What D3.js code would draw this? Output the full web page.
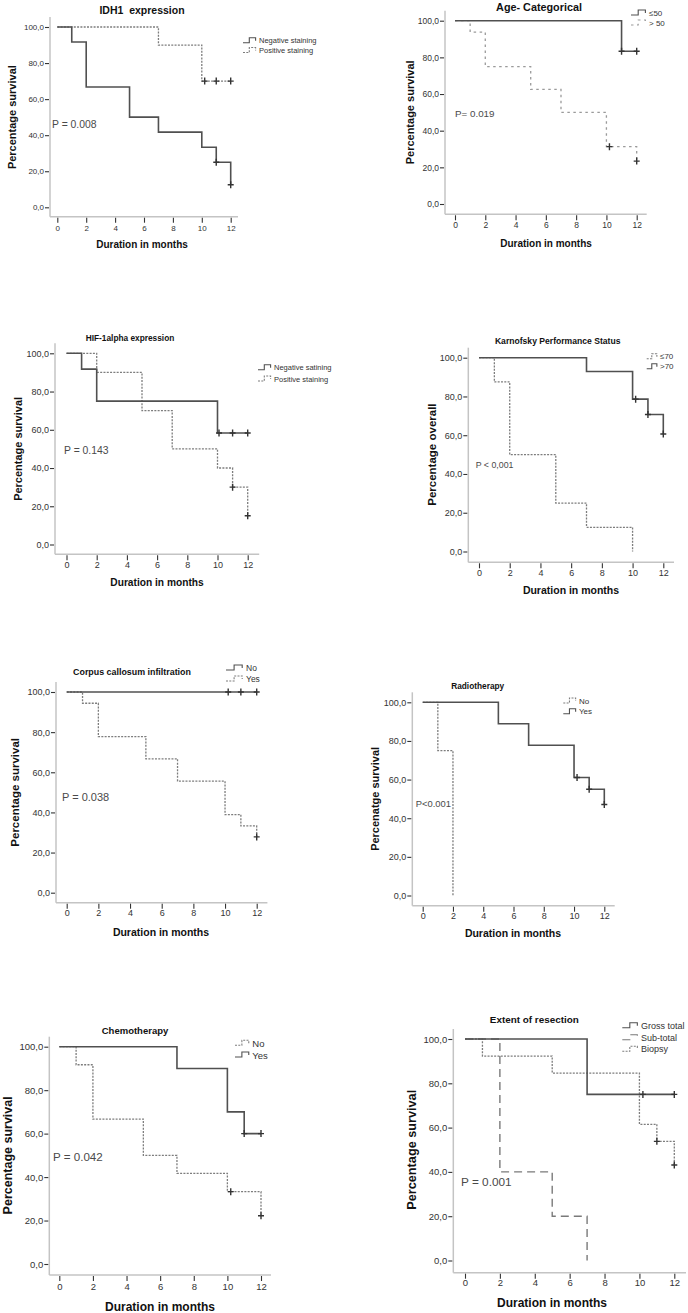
<!DOCTYPE html>
<html><head><meta charset="utf-8">
<script src="https://cdn.jsdelivr.net/npm/d3@7"></script>
<style>
body{margin:0;background:#fff}
svg{display:block}
text{font-family:"Liberation Sans",Arial,sans-serif;white-space:pre}
</style>
</head><body>
<svg id="c" width="688" height="1313"></svg>
<script>
// ---------- tick values ----------
const monthTicks = [0, 2, 4, 6, 8, 10, 12];
const pctTicks = [0, 20, 40, 60, 80, 100];

// ---------- IDH1 expression ----------
const idh1NegT = [0, 1, 2, 5, 7, 10, 11, 12];
const idh1NegS = [100, 91.7, 66.7, 50, 41.7, 33.3, 25, 12.5];
const idh1NegCensT = [11, 12];
const idh1NegCensS = [25, 12.5];
const idh1PosT = [0, 7, 10, 12];
const idh1PosS = [100, 90, 70, 70];
const idh1PosCensT = [10.2, 11, 12];
const idh1PosCensS = [70, 70, 70];

// ---------- Age ----------
const ageLe50T = [0, 11, 12];
const ageLe50S = [100, 83.3, 83.3];
const ageLe50CensT = [11, 12];
const ageLe50CensS = [83.3, 83.3];
const ageGt50T = [0, 1, 2, 5, 7, 10, 12];
const ageGt50S = [100, 93.8, 75, 62.5, 50, 31.3, 23.4];
const ageGt50CensT = [10.2, 12];
const ageGt50CensS = [31.3, 23.4];

// ---------- HIF-1alpha ----------
const hifNegT = [0, 1, 2, 10, 12];
const hifNegS = [100, 91.7, 75, 58.3, 58.3];
const hifNegCensT = [10.1, 11, 12];
const hifNegCensS = [58.3, 58.3, 58.3];
const hifPosT = [0, 2, 5, 7, 10, 11, 12];
const hifPosS = [100, 90, 70, 50, 40, 30, 15];
const hifPosCensT = [11, 12];
const hifPosCensS = [30, 15];

// ---------- Karnofsky ----------
const kpsLe70T = [0, 1, 2, 5, 7, 10];
const kpsLe70S = [100, 87.5, 50, 25, 12.5, 0];
const kpsGt70T = [0, 7, 10, 11, 12];
const kpsGt70S = [100, 92.9, 78.6, 70.7, 60.6];
const kpsGt70CensT = [10.2, 11, 12];
const kpsGt70CensS = [78.6, 70.7, 60.6];

// ---------- Corpus callosum ----------
const ccNoT = [0, 12];
const ccNoS = [100, 100];
const ccNoCensT = [10.2, 11, 12];
const ccNoCensS = [100, 100, 100];
const ccYesT = [0, 1, 2, 5, 7, 10, 11, 12];
const ccYesS = [100, 94.4, 77.8, 66.7, 55.6, 38.9, 33.3, 27.8];
const ccYesCensT = [12];
const ccYesCensS = [27.8];

// ---------- Radiotherapy ----------
const rtNoT = [0, 1, 2];
const rtNoS = [100, 75, 0];
const rtYesT = [0, 5, 7, 10, 11, 12];
const rtYesS = [100, 88.9, 77.8, 61.1, 55.0, 47.1];
const rtYesCensT = [10.2, 11, 12];
const rtYesCensS = [61.1, 55.0, 47.1];

// ---------- Chemotherapy ----------
const ctNoT = [0, 1, 2, 5, 7, 10, 12];
const ctNoS = [100, 91.7, 66.7, 50, 41.7, 33.3, 22.2];
const ctNoCensT = [10.2, 12];
const ctNoCensS = [33.3, 22.2];
const ctYesT = [0, 7, 10, 11, 12];
const ctYesS = [100, 90, 70, 60, 60];
const ctYesCensT = [11, 12];
const ctYesCensS = [60, 60];

// ---------- Extent of resection ----------
const eorGrossT = [0, 7, 12];
const eorGrossS = [100, 75, 75];
const eorGrossCensT = [10.2, 12];
const eorGrossCensS = [75, 75];
const eorSubT = [0, 2, 5, 7];
const eorSubS = [100, 40, 20, 0];
const eorBiopsyT = [0, 1, 5, 10, 11, 12];
const eorBiopsyS = [100, 92.3, 84.6, 61.5, 53.8, 43.1];
const eorBiopsyCensT = [11, 12];
const eorBiopsyCensS = [53.8, 43.1];

// ---------- styles ----------
const styles = {
  solid: {stroke: "#505050", width: 1.6, dash: null},
  dash:  {stroke: "#7d7d7d", width: 1.3, dash: "2,1.3"},
  dot:   {stroke: "#9a9a9a", width: 1.3, dash: "2.5,3.5"},
  long:  {stroke: "#7a7a7a", width: 1.4, dash: "8,5"}
};

// ---------- panel layouts ----------
const panels = [
  {title: "IDH1  expression", tx: 142, ty: 10, tsize: 10.5,
   yLabel: "Percentage survival", ylx: 12, ylsize: 11,
   xlx: 142, xly: 244, xlsize: 10,
   p: "P = 0.008", px: 52, py: 124, psize: 10.4,
   axX: 50, x0: 57.3, x12: 230.7, y100: 27, y0: 207.3, axY: 216.7, tlY: 228, tickSize: 8,
   legX: 243, legTX: 259, legYs: [40.7, 50.5], legSize: 7.5,
   series: [
     {name: "Negative staining", t: idh1NegT, s: idh1NegS, ct: idh1NegCensT, cs: idh1NegCensS, style: "solid"},
     {name: "Positive staining", t: idh1PosT, s: idh1PosS, ct: idh1PosCensT, cs: idh1PosCensS, style: "dash"}]},
  {title: "Age- Categorical", tx: 539, ty: 6.5, tsize: 10.8,
   yLabel: "Percentage survival", ylx: 410, ylsize: 11,
   xlx: 546, xly: 243.3, xlsize: 10,
   p: "P= 0.019", px: 455, py: 113, psize: 9.8,
   axX: 445, x0: 455, x12: 636.7, y100: 20.7, y0: 204, axY: 214.3, tlY: 224.7, tickSize: 8.5,
   legX: 631, legTX: 649, legYs: [13, 23], legSize: 8,
   series: [
     {name: "\u226450", t: ageLe50T, s: ageLe50S, ct: ageLe50CensT, cs: ageLe50CensS, style: "solid"},
     {name: "> 50", t: ageGt50T, s: ageGt50S, ct: ageGt50CensT, cs: ageGt50CensS, style: "dot"}]},
  {title: "HIF-1alpha expression", tx: 130, ty: 338, tsize: 8.3,
   yLabel: "Percentage survival", ylx: 18, ylsize: 11,
   xlx: 157, xly: 582.3, xlsize: 10.2,
   p: "P = 0.143", px: 64, py: 450.7, psize: 10.4,
   axX: 55, x0: 66.5, x12: 247.7, y100: 353.3, y0: 544.5, axY: 554.3, tlY: 565, tickSize: 9,
   legX: 258, legTX: 274, legYs: [367.7, 379], legSize: 7.5,
   series: [
     {name: "Negative satining", t: hifNegT, s: hifNegS, ct: hifNegCensT, cs: hifNegCensS, style: "solid"},
     {name: "Positive staining", t: hifPosT, s: hifPosS, ct: hifPosCensT, cs: hifPosCensS, style: "dash"}]},
  {title: "Karnofsky Performance Status", tx: 557.7, ty: 341, tsize: 8.6,
   yLabel: "Percentage overall", ylx: 432.3, ylsize: 11.5,
   xlx: 571, xly: 590, xlsize: 10.5,
   p: "P < 0,001", px: 475.7, py: 465, psize: 8.8,
   axX: 468.3, x0: 479, x12: 663.3, y100: 357.7, y0: 551.5, axY: 562.3, tlY: 573.3, tickSize: 9,
   legX: 646.7, legTX: 660, legYs: [356.7, 366.7], legSize: 8,
   series: [
     {name: "\u226470", t: kpsLe70T, s: kpsLe70S, ct: [], cs: [], style: "dash"},
     {name: ">70", t: kpsGt70T, s: kpsGt70S, ct: kpsGt70CensT, cs: kpsGt70CensS, style: "solid"}]},
  {title: "Corpus callosum infiltration", tx: 132, ty: 672, tsize: 8.9,
   yLabel: "Percentage survival", ylx: 15, ylsize: 11.5,
   xlx: 161, xly: 931.7, xlsize: 10.5,
   p: "P = 0.038", px: 62, py: 796.7, psize: 11,
   axX: 56, x0: 66.7, x12: 256.7, y100: 692, y0: 892.7, axY: 902.7, tlY: 913.3, tickSize: 9,
   legX: 226, legTX: 246, legYs: [668, 679], legSize: 8.5,
   series: [
     {name: "No", t: ccNoT, s: ccNoS, ct: ccNoCensT, cs: ccNoCensS, style: "solid"},
     {name: "Yes", t: ccYesT, s: ccYesS, ct: ccYesCensT, cs: ccYesCensS, style: "dash"}]},
  {title: "Radiotherapy", tx: 477.7, ty: 686, tsize: 8.3,
   yLabel: "Percenatge survival", ylx: 375, ylsize: 11,
   xlx: 513, xly: 933.3, xlsize: 10.5,
   p: "P<0.001", px: 415.7, py: 803.3, psize: 9.4,
   axX: 412.3, x0: 422.7, x12: 604.3, y100: 702.3, y0: 895.5, axY: 905.7, tlY: 915.7, tickSize: 9,
   legX: 563.3, legTX: 579, legYs: [701, 711.7], legSize: 8,
   series: [
     {name: "No", t: rtNoT, s: rtNoS, ct: [], cs: [], style: "dash"},
     {name: "Yes", t: rtYesT, s: rtYesS, ct: rtYesCensT, cs: rtYesCensS, style: "solid"}]},
  {title: "Chemotherapy", tx: 135, ty: 1030, tsize: 9.5,
   yLabel: "Percentage survival", ylx: 7.5, ylsize: 12.5,
   xlx: 160, xly: 1306.7, xlsize: 12,
   p: "P = 0.042", px: 53, py: 1156.7, psize: 11.6,
   axX: 49.3, x0: 59.3, x12: 261, y100: 1046.7, y0: 1264, axY: 1275, tlY: 1287, tickSize: 9.5,
   legX: 235, legTX: 252.3, legYs: [1043.3, 1055], legSize: 9.5,
   series: [
     {name: "No", t: ctNoT, s: ctNoS, ct: ctNoCensT, cs: ctNoCensS, style: "dash"},
     {name: "Yes", t: ctYesT, s: ctYesS, ct: ctYesCensT, cs: ctYesCensS, style: "solid"}]},
  {title: "Extent of resection", tx: 534.3, ty: 1019.3, tsize: 9.9,
   yLabel: "Percentage survival", ylx: 411.7, ylsize: 12.7,
   xlx: 552, xly: 1303.3, xlsize: 12,
   p: "P = 0.001", px: 461, py: 1181.7, psize: 11.8,
   axX: 453.3, x0: 465, x12: 674.3, y100: 1039, y0: 1260.5, axY: 1272.7, tlY: 1283, tickSize: 9.5,
   legX: 622.3, legTX: 641, legYs: [1025.7, 1037.7, 1049.3], legSize: 9,
   series: [
     {name: "Gross total", t: eorGrossT, s: eorGrossS, ct: eorGrossCensT, cs: eorGrossCensS, style: "solid"},
     {name: "Sub-total", t: eorSubT, s: eorSubS, ct: [], cs: [], style: "long"},
     {name: "Biopsy", t: eorBiopsyT, s: eorBiopsyS, ct: eorBiopsyCensT, cs: eorBiopsyCensS, style: "dash"}]}
];

const svg = d3.select("#c");
const fmt = d => d.toFixed(1).replace(".", ",");

panels.forEach(P => {
  const g = svg.append("g");
  const x = d3.scaleLinear().domain([0, 12]).range([P.x0, P.x12]);
  const y = d3.scaleLinear().domain([0, 100]).range([P.y0, P.y100]);
  const pad = P.x0 - P.axX;

  // axis lines (light gray)
  g.append("line").attr("x1", P.axX).attr("x2", P.axX)
    .attr("y1", P.y100 - 10).attr("y2", P.axY)
    .attr("stroke", "#c4c4c4").attr("stroke-width", 1.5);
  g.append("line").attr("x1", P.axX).attr("x2", P.x12 + pad)
    .attr("y1", P.axY).attr("y2", P.axY)
    .attr("stroke", "#c4c4c4").attr("stroke-width", 1.5);

  // y axis ticks
  const ya = g.append("g").attr("transform", `translate(${P.axX - 1},0)`)
    .call(d3.axisLeft(y).tickValues(pctTicks).tickSize(4).tickPadding(1).tickFormat(fmt));
  ya.select(".domain").remove();
  ya.selectAll("line").attr("stroke", "#333").attr("stroke-width", 1.1);
  ya.selectAll("text").attr("font-size", P.tickSize).attr("fill", "#333")
    .attr("font-family", "Liberation Sans, Arial, sans-serif");

  // x axis ticks
  const xa = g.append("g").attr("transform", `translate(0,${P.axY + 1})`)
    .call(d3.axisBottom(x).tickValues(monthTicks).tickSize(5).tickFormat(d3.format("d")));
  xa.select(".domain").remove();
  xa.selectAll("line").attr("stroke", "#333").attr("stroke-width", 1.1);
  xa.selectAll("text").attr("font-size", P.tickSize).attr("fill", "#333")
    .attr("font-family", "Liberation Sans, Arial, sans-serif")
    .attr("y", P.tlY - P.axY - 1).attr("dy", "0.35em");

  // title
  g.append("text").attr("x", P.tx).attr("y", P.ty).attr("text-anchor", "middle")
    .attr("dominant-baseline", "central").attr("font-weight", "bold")
    .attr("font-size", P.tsize).attr("fill", "#111").text(P.title);

  // y label
  g.append("text").attr("transform", `translate(${P.ylx},${(P.y100 + P.y0) / 2}) rotate(-90)`)
    .attr("text-anchor", "middle").attr("dominant-baseline", "central")
    .attr("font-weight", "bold").attr("font-size", P.ylsize).attr("fill", "#111").text(P.yLabel);

  // x label
  g.append("text").attr("x", P.xlx).attr("y", P.xly).attr("text-anchor", "middle")
    .attr("dominant-baseline", "central").attr("font-weight", "bold")
    .attr("font-size", P.xlsize).attr("fill", "#111").text("Duration in months");

  // p value
  g.append("text").attr("x", P.px).attr("y", P.py).attr("dominant-baseline", "central")
    .attr("font-size", P.psize).attr("fill", "#4a4a4a").text(P.p);

  // curves (non-solid first, solid on top)
  const line = d3.line().x(d => x(d[0])).y(d => y(d[1])).curve(d3.curveStepAfter);
  const order = P.series.slice().sort((a, b) => (a.style === "solid") - (b.style === "solid"));
  order.forEach(S => {
    const st = styles[S.style];
    const pts = S.t.map((t, i) => [t, S.s[i]]);
    g.append("path").attr("d", line(pts)).attr("fill", "none")
      .attr("stroke", st.stroke).attr("stroke-width", st.width)
      .attr("stroke-dasharray", st.dash);
    const cens = S.ct.map((t, i) => [t, S.cs[i]]);
    g.selectAll(null).data(cens).enter().append("path")
      .attr("d", d => `M${x(d[0]) - 3},${y(d[1])}H${x(d[0]) + 3}M${x(d[0])},${y(d[1]) - 3.5}V${y(d[1]) + 3.5}`)
      .attr("stroke", "#333").attr("stroke-width", 1.4).attr("fill", "none");
  });

  // legend
  P.series.forEach((S, i) => {
    const st = styles[S.style];
    const cy = P.legYs[i];
    const w = P.legTX - P.legX - 2;
    g.append("path")
      .attr("d", `M${P.legX},${cy + 2}H${P.legX + w * 0.45}V${cy - 3}H${P.legX + w * 0.9}V${cy}`)
      .attr("fill", "none").attr("stroke", st.stroke).attr("stroke-width", 1.1)
      .attr("stroke-dasharray", st.dash);
    g.append("text").attr("x", P.legTX).attr("y", cy).attr("dominant-baseline", "central")
      .attr("font-size", P.legSize).attr("fill", "#333").text(S.name);
  });
});
</script>
</body></html>
